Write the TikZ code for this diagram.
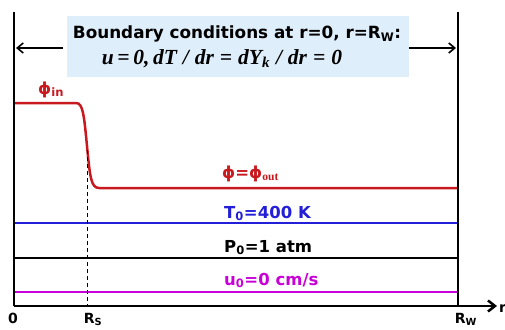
\documentclass[tikz,border=0pt]{standalone}
\usepackage{fontspec}
\setmainfont{DejaVu Sans}
\newfontfamily\tnr{Liberation Serif}
\usetikzlibrary{arrows.meta}
\definecolor{myred}{RGB}{200,25,30}
\definecolor{myblue}{RGB}{35,30,215}
\definecolor{mymag}{RGB}{200,0,215}
\definecolor{boxblue}{RGB}{222,238,250}
\tikzset{
  lbl/.style={font=\fontsize{16.5}{17}\selectfont\bfseries, inner sep=0pt, anchor=base west},
  axlbl/.style={font=\fontsize{14}{15}\selectfont\bfseries, inner sep=0pt, anchor=base},
  wall/.style={line width=2pt, black},
  bcarrow/.style={line width=1.6pt, -{Straight Barb[length=6pt,width=10pt]}},
}
\begin{document}
\begin{tikzpicture}[x=1pt,y=-1pt]
\useasboundingbox (0,0) rectangle (505,329);
% coordinates
\coordinate (wl) at (14,12);
\coordinate (wr) at (458,12);
\coordinate (o) at (14,306);
\coordinate (rw) at (458,306);
\coordinate (rend) at (497,306);
% box
\node (bc) [fill=boxblue, minimum width=342pt, minimum height=61pt, inner sep=0pt] at (238,46.5) {};
\node (bctitle) [font=\fontsize{16.8}{18}\selectfont\bfseries, inner sep=0pt, anchor=base] at (237,39) {Boundary conditions at r=0, r=R\textsubscript{W}:};
\node (bceq) [font=\fontsize{21.5}{22}\selectfont\tnr\bfseries\itshape, inner sep=0pt, anchor=base] at (222,64) {u\,=\,0,\,dT\;/\;dr\;=\;dY\textsubscript{k}\;/\;dr\;=\;0};
\coordinate (al0) at (63,48);
\coordinate (al1) at (16,48);
\coordinate (ar0) at (409,48);
\coordinate (ar1) at (456,48);
\draw[bcarrow] (al0) -- (al1);
\draw[bcarrow] (ar0) -- (ar1);
% horizontal profiles
\coordinate (pin) at (14,103);
\coordinate (pout) at (458,188);
\draw[myred, line width=2.5pt, line join=round] (pin) -- (76,103) .. controls (83,103) and (84,115) .. (87,146) .. controls (90,177) and (91,188) .. (99,188) -- (pout);
\coordinate (tl) at (14,223); \coordinate (tr) at (458,223);
\coordinate (pl) at (14,258); \coordinate (pr) at (458,258);
\coordinate (ul) at (14,292); \coordinate (ur) at (458,292);
\draw[myblue, line width=2pt] (tl) -- (tr);
\draw[black, line width=2pt] (pl) -- (pr);
\draw[mymag, line width=2pt] (ul) -- (ur);
% dashed R_s
\coordinate (rs) at (87,306);
\coordinate (rstop) at (87,150);
\draw[black, line width=1pt, dash pattern=on 4pt off 3pt] (rstop) -- (rs);
% walls and axis
\draw[wall] (wl) -- (o);
\draw[wall] (wr) -- (rw);
\draw[line width=2.5pt, -{Straight Barb[length=7pt,width=11pt]}] (o) -- (rend);
% labels
\node (phiin) [lbl, text=myred] at (38,94) {ϕ\textsubscript{in}};
\node (phiout) [lbl, text=myred] at (222,178) {ϕ=ϕ\textsubscript{\tnr\bfseries out}};
\node (T0) [lbl, text=myblue] at (224,218) {T\textsubscript{0}=400 K};
\node (P0) [lbl, text=black] at (224,252) {P\textsubscript{0}=1 atm};
\node (u0) [lbl, text=mymag] at (224,285) {u\textsubscript{0}=0 cm/s};
\node (l0) [axlbl] at (13,323) {0};
\node (lrs) [axlbl] at (93,323) {R\textsubscript{S}};
\node (lrw) [axlbl] at (466,323) {R\textsubscript{W}};
\node (lr) [axlbl, anchor=base west] at (499,312) {r};
\end{tikzpicture}
\end{document}
